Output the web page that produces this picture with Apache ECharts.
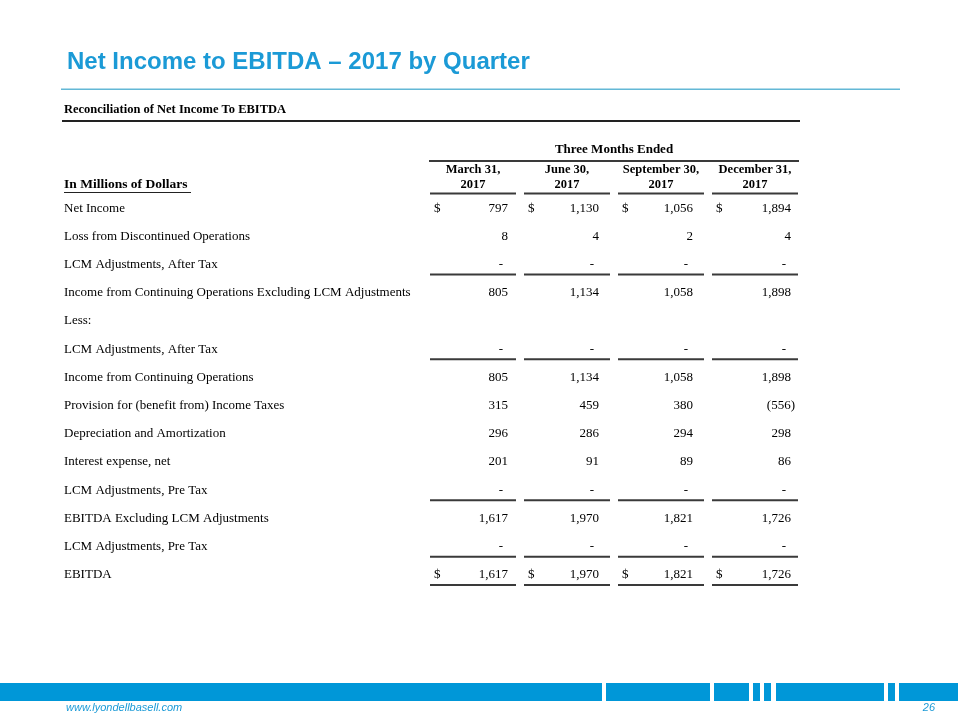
<!DOCTYPE html>
<html>
<head>
<meta charset="utf-8">
<script src="https://cdn.jsdelivr.net/npm/echarts@6/dist/echarts.min.js"></script>
<style>html,body{margin:0;padding:0;background:#fff}#c{width:960px;height:720px}</style>
</head>
<body>
<div id="c"></div>
<script>
// ---- data ----
const rowLabels = [
  'Net Income',
  'Loss from Discontinued Operations',
  'LCM Adjustments, After Tax',
  'Income from Continuing Operations Excluding LCM Adjustments',
  'Less:',
  'LCM Adjustments, After Tax',
  'Income from Continuing Operations',
  'Provision for (benefit from) Income Taxes',
  'Depreciation and Amortization',
  'Interest expense, net',
  'LCM Adjustments, Pre Tax',
  'EBITDA Excluding LCM Adjustments',
  'LCM Adjustments, Pre Tax',
  'EBITDA'
];
const quarterLabels = ['March 31,\n2017', 'June 30,\n2017', 'September 30,\n2017', 'December 31,\n2017'];
const netIncome = [797, 1130, 1056, 1894];
const lossDiscontinued = [8, 4, 2, 4];
const lcmAfterTax = [null, null, null, null];
const incomeContExclLcm = [805, 1134, 1058, 1898];
const lessRow = [];
const lcmAfterTaxLess = [null, null, null, null];
const incomeCont = [805, 1134, 1058, 1898];
const incomeTaxes = [315, 459, 380, -556];
const depreciation = [296, 286, 294, 298];
const interestExpense = [201, 91, 89, 86];
const lcmPreTax = [null, null, null, null];
const ebitdaExclLcm = [1617, 1970, 1821, 1726];
const lcmPreTax2 = [null, null, null, null];
const ebitda = [1617, 1970, 1821, 1726];
const rowValues = [netIncome, lossDiscontinued, lcmAfterTax, incomeContExclLcm, lessRow, lcmAfterTaxLess,
  incomeCont, incomeTaxes, depreciation, interestExpense, lcmPreTax, ebitdaExclLcm, lcmPreTax2, ebitda];
const dollarRows = [0, 13];
const underlineRows = [2, 5, 10, 12, 13];

// ---- build ----
const cells = [];
rowValues.forEach((vals, r) => {
  for (let c = 0; c < vals.length; c++) {
    cells.push({ value: [c, r, vals[c] === null ? '-' : vals[c]] });
  }
});
function fmt(v) {
  const s = Math.abs(v).toLocaleString('en-US');
  return v < 0 ? '(' + s + ')' : s;
}
const SERIF = '"Liberation Serif", "Times New Roman", serif';
const SANS = '"Liberation Sans", Arial, sans-serif';
const ink = '#000';
const rule = '#3a3a3a';

const chart = echarts.init(document.getElementById('c'), null, { renderer: 'canvas' });

function renderItem(params, api) {
  const c = api.value(0), r = api.value(1), v = api.value(2);
  const pt = api.coord([c, r]);
  const bw = api.size([1, 0])[0];
  const left = pt[0] - bw / 2, right = pt[0] + bw / 2;
  const children = [];
  const valRight = right - 12 - (c === 3 ? -1 : 0) - (c === 1 ? 3 : 0) - (c === 2 ? 3 : 0);
  let txt, x = valRight;
  if (v === '-' || v === null || v === undefined || isNaN(v)) { txt = '-'; x = valRight - 5; }
  else { txt = fmt(v); if (v < 0) x = valRight + 4; }
  children.push({ type: 'text', style: { x: x, y: pt[1], text: txt, align: 'right', verticalAlign: 'middle',
    font: '13px ' + SERIF, fill: ink } });
  if (dollarRows.indexOf(r) >= 0) {
    children.push({ type: 'text', style: { x: left + 8, y: pt[1], text: '$', align: 'left', verticalAlign: 'middle',
      font: '13px ' + SERIF, fill: ink } });
  }
  if (underlineRows.indexOf(r) >= 0) {
    children.push({ type: 'line', shape: { x1: left + 4, y1: pt[1] + 10, x2: right - 4, y2: pt[1] + 10 },
      style: { stroke: rule, lineWidth: 2 } });
  }
  if (r === 0) {
    children.push({ type: 'line', shape: { x1: left + 4, y1: pt[1] - 14.5, x2: right - 4, y2: pt[1] - 14.5 },
      style: { stroke: rule, lineWidth: 2 } });
  }
  return { type: 'group', children: children };
}

const barSegs = [[0, 602], [606, 710], [714, 749], [753, 760], [764, 771], [776, 884], [888, 895], [899, 958]];
const graphics = [
  { type: 'text', left: 67, top: 50, style: { text: 'Net Income to EBITDA \u2013 2017 by Quarter', font: 'bold 24px ' + SANS, fill: '#1b9ad6' } },
  { type: 'rect', shape: { x: 61, y: 88.5, width: 839, height: 1.6 }, style: { fill: '#63b8d6' } },
  { type: 'text', x: 64, y: 110, style: { text: 'Reconciliation of Net Income To EBITDA', font: 'bold 12.5px ' + SERIF, fill: ink, align: 'left', verticalAlign: 'middle' } },
  { type: 'line', shape: { x1: 62, y1: 121, x2: 800, y2: 121 }, style: { stroke: '#222', lineWidth: 2 } },
  { type: 'text', x: 614, y: 150, style: { text: 'Three Months Ended', font: 'bold 13px ' + SERIF, fill: ink, align: 'center', verticalAlign: 'middle' } },
  { type: 'line', shape: { x1: 429, y1: 161, x2: 799, y2: 161 }, style: { stroke: rule, lineWidth: 2 } },
  { type: 'text', x: 64, y: 185, style: { text: 'In Millions of Dollars', font: 'bold 13.5px ' + SERIF, fill: ink, align: 'left', verticalAlign: 'middle' } },
  { type: 'line', shape: { x1: 64, y1: 192.5, x2: 191, y2: 192.5 }, style: { stroke: '#222', lineWidth: 1 } },
  { type: 'text', x: 66, y: 708, style: { text: 'www.lyondellbasell.com', font: 'italic 11px ' + SANS, fill: '#1b9ad6', align: 'left', verticalAlign: 'middle' } },
  { type: 'text', x: 935, y: 708, style: { text: '26', font: 'italic 11px ' + SANS, fill: '#1b9ad6', align: 'right', verticalAlign: 'middle' } }
];
barSegs.forEach(s => graphics.push({ type: 'rect', shape: { x: s[0], y: 683, width: s[1] - s[0], height: 18 }, style: { fill: '#0097d8' } }));

chart.setOption({
  animation: false,
  grid: { left: 426, right: 158, top: 194, bottom: 131 },
  xAxis: {
    type: 'category', position: 'top', data: quarterLabels,
    axisLine: { show: false }, axisTick: { show: false }, splitLine: { show: false },
    axisLabel: { interval: 0, margin: 1, fontFamily: SERIF, fontSize: 12.5, fontWeight: 'bold', color: ink, lineHeight: 15.5 }
  },
  yAxis: {
    type: 'category', inverse: true, data: rowLabels,
    axisLine: { show: false }, axisTick: { show: false }, splitLine: { show: false },
    axisLabel: { interval: 0, margin: 362, align: 'left', fontFamily: SERIF, fontSize: 13, color: ink }
  },
  graphic: graphics,
  series: [{ type: 'custom', renderItem: renderItem, data: cells, clip: false }]
});
</script>
</body>
</html>
